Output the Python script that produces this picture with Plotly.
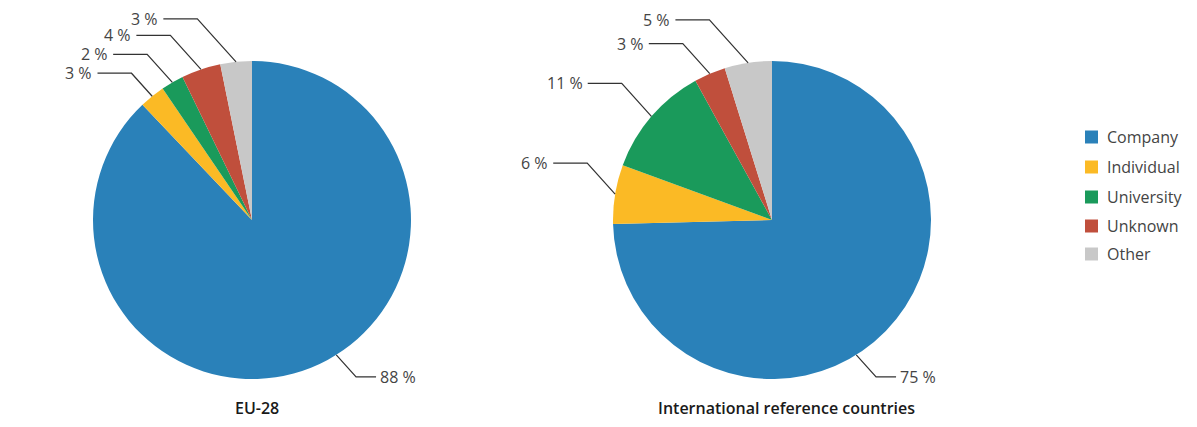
import math
import plotly.graph_objects as go

# data (share of applicants, %)
categories = ["Company", "Individual", "University", "Unknown", "Other"]
eu28_share = [87.9, 2.6, 2.3, 4.0, 3.2]
intl_share = [74.6, 6.0, 11.4, 3.2, 4.8]
pie_titles = ["EU-28", "International reference countries"]

colors = ["#2a81b9", "#fbba25", "#1a9a5b", "#c04f3c", "#c8c8c8"]

# page is drawn inside the default 8px body margin
W, H, OFF = 1197, 427, 8
FW, FH = W - 2 * OFF, H - 2 * OFF
R = 159
centers = [(252, 220), (772, 220)]
title_x = [257, 786]
# vertical drop of each leader line (px), same order as categories
leader_drop = [[22, 23, 28, 34, 43], [22, 31, 33, 30, 43]]
big_angle = 148  # leader of the big slice sits at this angle (deg, clockwise from top)

def paper(x, y):
    return (x - OFF) / FW, 1 - (y - OFF) / FH

fig = go.Figure()
shapes = []
annotations = []

for k, values in enumerate([eu28_share, intl_share]):
    cx, cy = centers[k]
    x0, y1 = paper(cx - R, cy - R)
    x1, y0 = paper(cx + R, cy + R)
    fig.add_trace(go.Pie(
        labels=categories, values=values, sort=False, direction="clockwise",
        marker=dict(colors=colors, line=dict(width=0)),
        textinfo="none", hoverinfo="label+percent",
        domain=dict(x=[x0, x1], y=[y0, y1]),
        showlegend=False,
    ))

    total = sum(values)
    cum = 0
    for i, v in enumerate(values):
        mid = (cum + v / 2) / total * 360
        cum += v
        ang = big_angle if i == 0 else mid
        a = math.radians(ang)
        ax_, ay_ = cx + R * math.sin(a), cy - R * math.cos(a)
        drop = leader_drop[k][i]
        if i == 0:
            ex, ey = ax_ + drop * 0.9, ay_ + drop
            hx = ex + 20
            tx, anchor = hx + 2, "left"
        else:
            ex, ey = ax_ - drop * 0.9, ay_ - drop
            hx = ex - 34
            tx, anchor = hx - 3, "right"
        pts = [paper(ax_, ay_), paper(ex, ey), paper(hx, ey)]
        path = "M {} {} L {} {} L {} {}".format(*[c for p in pts for c in p])
        shapes.append(dict(type="path", path=path, xref="paper", yref="paper",
                           line=dict(color="#333333", width=1.2)))
        px_, py_ = paper(tx, ey)
        annotations.append(dict(x=px_, y=py_, xref="paper", yref="paper",
                                text=f"{round(v / total * 100):.0f} %",
                                showarrow=False, xanchor=anchor, yanchor="middle",
                                font=dict(size=16, color="#444444")))

    tx, ty = paper(title_x[k], 408)
    annotations.append(dict(x=tx, y=ty, xref="paper", yref="paper", text=pie_titles[k],
                            showarrow=False, xanchor="center", yanchor="middle",
                            font=dict(size=16, color="#1a1a1a", weight=600)))

# legend drawn by hand to get the wider row spacing of the reference
legend_y = [137, 167, 197, 226, 254]
for i, name in enumerate(categories):
    sx0, sy0 = paper(1085, legend_y[i] - 6.5)
    sx1, sy1 = paper(1098, legend_y[i] + 6.5)
    shapes.append(dict(type="rect", xref="paper", yref="paper",
                       x0=sx0, x1=sx1, y0=sy1, y1=sy0,
                       fillcolor=colors[i], line=dict(width=0)))
    lx, ly = paper(1105, legend_y[i])
    annotations.append(dict(x=lx, y=ly, xref="paper", yref="paper", text=name,
                            showarrow=False, xanchor="left", yanchor="middle",
                            font=dict(size=16, color="#444444")))

fig.update_layout(
    width=FW, height=FH,
    margin=dict(l=0, r=0, t=0, b=0),
    paper_bgcolor="white", plot_bgcolor="white",
    font=dict(family="Open Sans, sans-serif", color="#333333"),
    shapes=shapes, annotations=annotations,
    showlegend=False,
)

fig.write_html("out.html")
